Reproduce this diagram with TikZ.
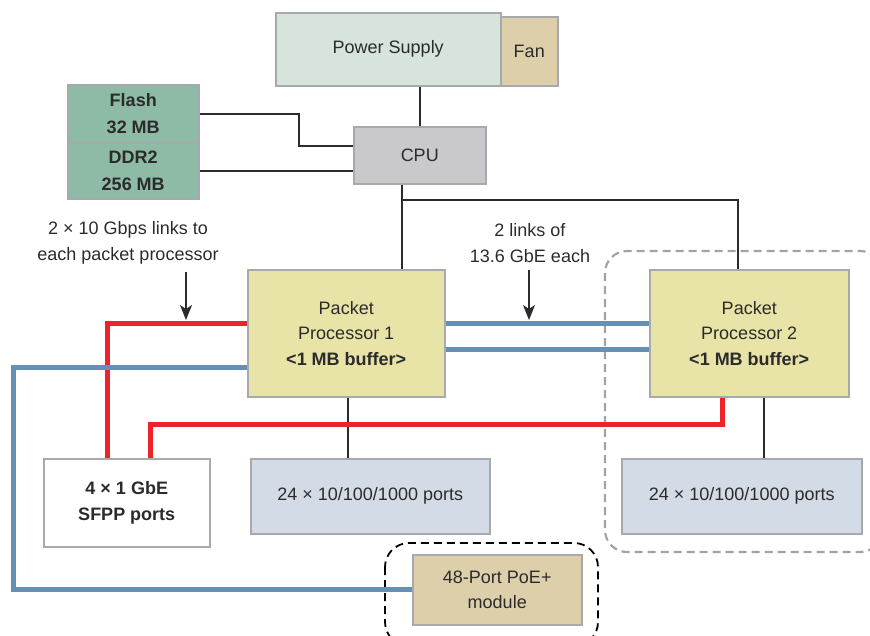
\documentclass[tikz,border=0pt]{standalone}
\usepackage{fontspec}
\setmainfont{Liberation Sans}
\usetikzlibrary{arrows.meta}
\definecolor{bord}{HTML}{A7A9AC}
\definecolor{txt}{HTML}{2B2B2B}
\definecolor{psfill}{HTML}{D6E4DB}
\definecolor{tan}{HTML}{DCCFAA}
\definecolor{memfill}{HTML}{8EBBA5}
\definecolor{cpufill}{HTML}{C9C9CB}
\definecolor{ppfill}{HTML}{E8E4A8}
\definecolor{portfill}{HTML}{D3DCE6}
\definecolor{linkblue}{HTML}{6690B3}
\definecolor{linkred}{HTML}{EE2229}
\definecolor{dashgray}{HTML}{A3A3A3}
\tikzset{
  box/.style={draw=bord, line width=1.5pt, inner sep=0pt, align=center, anchor=north west, text=txt},
  conn/.style={line width=2pt, draw=txt},
  bluelink/.style={line width=5pt, draw=linkblue, line join=miter},
  redlink/.style={line width=5pt, draw=linkred, line join=miter},
  pointer/.style={line width=1.8pt, draw=txt, -{Stealth[length=15pt,width=12pt,inset=4pt]}},
  lbl/.style={align=center, text=txt, inner sep=0pt},
}
\begin{document}
\begin{tikzpicture}[x=1pt,y=-1pt, every node/.style={font=\fontsize{18}{25.5}\selectfont}]
\useasboundingbox (0,0) rectangle (870,635);
\clip (0,0) rectangle (870,635);

% dashed groups
\draw[dashgray, line width=2.2pt, dash pattern=on 8pt off 5pt, rounded corners=22pt] (605,251) rectangle (882,552);
\draw[black, line width=1.8pt, dash pattern=on 8pt off 5pt, rounded corners=24pt] (385,543) rectangle (598,646);

% nodes
\node[box, fill=psfill, minimum width=225pt, minimum height=73pt] (ps) at (275,12) {Power Supply};
\node[box, fill=tan, minimum width=57pt, minimum height=69pt] (fan) at (500,16) {Fan};
\node[box, fill=memfill, minimum width=131pt, minimum height=58pt, font=\fontsize{18}{27}\selectfont\bfseries] (flash) at (67,84) {Flash\\32 MB};
\node[box, fill=memfill, minimum width=131pt, minimum height=56pt, font=\fontsize{18}{27}\selectfont\bfseries] (ddr) at (67,142) {DDR2\\256 MB};
\node[box, fill=cpufill, minimum width=132pt, minimum height=57pt] (cpu) at (353,126) {CPU};
\node[box, fill=ppfill, minimum width=197pt, minimum height=127pt] (pp1) at (247,269) {Packet\\Processor 1\\\textbf{<1 MB buffer>}};
\node[box, fill=ppfill, minimum width=199pt, minimum height=127pt] (pp2) at (649,269) {Packet\\Processor 2\\\textbf{<1 MB buffer>}};
\node[box, fill=white, minimum width=166pt, minimum height=88pt, font=\fontsize{18}{25.5}\selectfont\bfseries] (sfpp) at (43,458) {4 × 1 GbE\\SFPP ports};
\node[box, fill=portfill, minimum width=239pt, minimum height=75pt] (ports1) at (250,458) {24 × 10/100/1000 ports};
\node[box, fill=portfill, minimum width=240pt, minimum height=75pt] (ports2) at (621,458) {24 × 10/100/1000 ports};
\node[box, fill=tan, minimum width=169pt, minimum height=70pt] (poe) at (412,554) {48-Port PoE+\\module};

% labels
\node[lbl] (lab1) at (128,243) {2 × 10 Gbps links to\\each packet processor};
\node[lbl] (lab2) at (530,243) {2 links of\\13.6 GbE each};

% black connectors
\draw[conn] (cpu.north -| 420,0) -- (ps.south -| 420,0);
\draw[conn] (flash.east) -- ++(99,0) |- ([yshift=9.5pt]cpu.west);
\draw[conn] (ddr.east) -- (ddr.east -| cpu.west);
\draw[conn] ([xshift=-18pt]cpu.south) -- ([xshift=-18pt]cpu.south |- pp1.north);
\draw[conn] ([xshift=-18pt]cpu.south) ++(0,15) -| ([xshift=-11.5pt]pp2.north);
\draw[conn] ([xshift=1.5pt]pp1.south) -- ([xshift=1.5pt]pp1.south |- ports1.north);
\draw[conn] ([xshift=14.5pt]pp2.south) -- ([xshift=14.5pt]pp2.south |- ports2.north);

% links
\draw[bluelink] ([yshift=9.5pt]pp1.east) -- ([yshift=9.5pt]pp2.west);
\draw[bluelink] ([yshift=-16.5pt]pp1.east) -- ([yshift=-16.5pt]pp2.west);
\draw[redlink] ([yshift=9.5pt]pp1.west) -| ([xshift=-19pt]sfpp.north);
\draw[redlink] ([xshift=-26.5pt]pp2.south) -- ++(0,27) -| ([xshift=24pt]sfpp.north);
\draw[bluelink] ([yshift=-34.5pt]pp1.west) -- ++(-234,0) |- (poe.west);

% pointers
\coordinate (p1s) at (186,272);
\coordinate (p1e) at (186,320);
\coordinate (p2s) at (529,270);
\coordinate (p2e) at (529,320);
\draw[pointer] (p1s) -- (p1e);
\draw[pointer] (p2s) -- (p2e);
\end{tikzpicture}
\end{document}
